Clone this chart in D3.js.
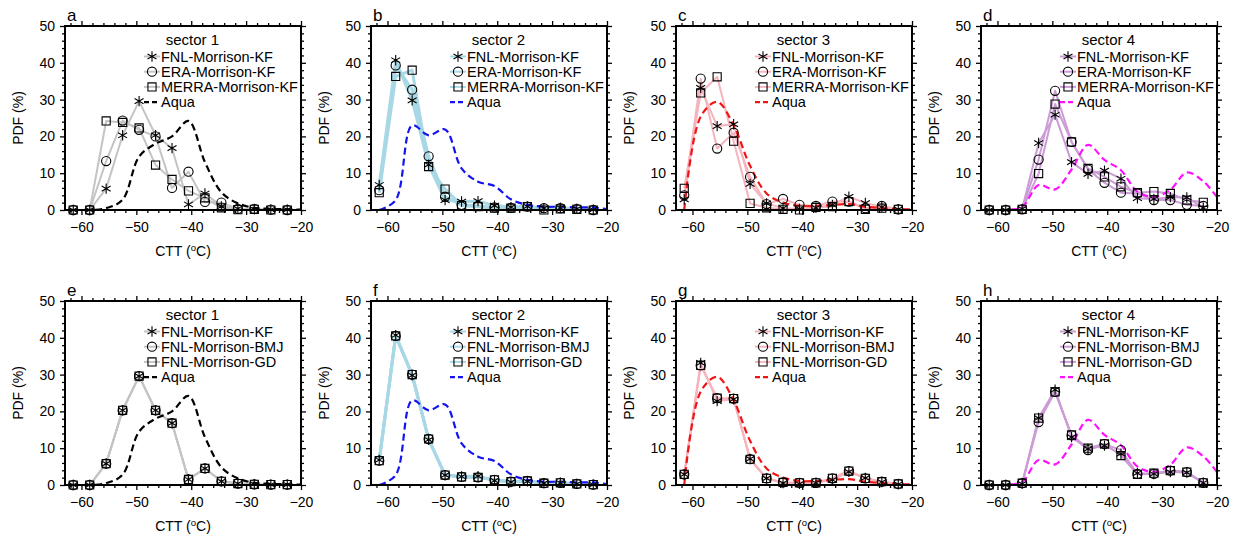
<!DOCTYPE html>
<html>
<head>
<meta charset="utf-8">
<script src="https://cdn.jsdelivr.net/npm/d3@7"></script>
<style>
  body { margin: 0; background: #fff; }
  text { font-family: "Liberation Sans", Arial, Helvetica, sans-serif; fill: #000; }
</style>
</head>
<body>
<svg id="chart" width="1240" height="537"></svg>
<script>
// bin centres of the CTT histogram (degC)
var binCentres = [-61.5, -58.5, -55.5, -52.5, -49.5, -46.5, -43.5, -40.5, -37.5, -34.5, -31.5, -28.5, -25.5, -22.5];
// Aqua curve has one extra point at the right edge
var aquaX = [-61.5, -58.5, -55.5, -52.5, -49.5, -46.5, -43.5, -40.5, -37.5, -34.5, -31.5, -28.5, -25.5, -22.5, -20];

var xTicks = [-60, -50, -40, -30, -20];
var yTicks = [0, 10, 20, 30, 40, 50];

// sector 1
var s1FNL   = [0, 0, 5.8, 20.3, 29.6, 20.3, 16.8, 1.5, 4.5, 1.0, 0.4, 0.2, 0.1, 0.1];
var s1ERA   = [0, 0, 13.3, 24.3, 21.8, 20.0, 6.0, 10.4, 2.2, 2.0, 0.3, 0.3, 0.1, 0];
var s1MERRA = [0, 0, 24.2, 23.8, 22.3, 12.2, 8.3, 5.2, 3.3, 0.6, 0.1, 0.2, 0, 0];
var s1BMJ   = [0, 0, 5.8, 20.3, 29.6, 20.3, 16.8, 1.5, 4.5, 1.0, 0.4, 0.2, 0.1, 0.1];
var s1GD    = [0, 0, 5.8, 20.3, 29.6, 20.3, 16.8, 1.5, 4.5, 1.0, 0.4, 0.2, 0.1, 0.1];
var s1Aqua  = [0, 0, 0.5, 2.8, 14.5, 18.0, 20.0, 24.2, 13.0, 4.8, 1.8, 0.6, 0.3, 0.2, 0.1];

// sector 2
var s2FNL   = [6.8, 40.7, 29.8, 12.3, 2.7, 2.3, 2.4, 1.2, 0.8, 1.0, 0.5, 0.6, 0.3, 0.1];
var s2ERA   = [5.4, 39.3, 32.7, 14.6, 3.6, 1.4, 1.1, 0.7, 0.6, 0.9, 0.5, 0.5, 0.3, 0];
var s2MERRA = [4.7, 36.3, 38.0, 11.8, 5.7, 1.2, 0.9, 0.5, 0.5, 0.9, 0, 0.3, 0.2, 0];
var s2BMJ   = [6.6, 40.5, 30.0, 12.5, 2.7, 2.2, 2.1, 1.4, 0.9, 1.1, 0.5, 0.6, 0.3, 0.1];
var s2GD    = [6.6, 40.5, 30.0, 12.5, 2.7, 2.2, 2.1, 1.4, 0.9, 1.1, 0.5, 0.6, 0.3, 0.1];
var s2Aqua  = [0, 2.7, 23.0, 20.3, 21.9, 11.3, 7.7, 6.5, 2.9, 1.4, 0.9, 0.9, 0.7, 0.7, 0.2];

// sector 3
var s3FNL   = [2.9, 33.2, 22.8, 23.3, 7.1, 1.8, 0.5, 0.3, 0.6, 1.4, 3.6, 1.9, 0.8, 0.2];
var s3ERA   = [4.0, 35.7, 16.7, 21.0, 9.0, 1.6, 3.0, 1.4, 1.1, 2.3, 2.3, 0.5, 1.1, 0.2];
var s3MERRA = [5.9, 31.8, 36.2, 18.7, 1.8, 0.6, 0.2, 0, 0.7, 0.9, 2.3, 0.2, 0.5, 0.2];
var s3BMJ   = [2.9, 32.5, 23.6, 23.5, 7.0, 1.8, 0.7, 0.6, 0.6, 1.8, 3.8, 1.8, 0.9, 0.3];
var s3GD    = [2.9, 32.5, 23.6, 23.5, 7.0, 1.8, 0.7, 0.6, 0.6, 1.8, 3.8, 1.8, 0.9, 0.3];
var s3Aqua  = [0, 25.4, 29.4, 23.0, 12.0, 4.5, 2.0, 1.1, 1.1, 1.4, 1.6, 0.9, 0.5, 0.2, 0.2];

// sector 4
var s4FNL   = [0, 0, 0.3, 18.2, 25.9, 13.0, 9.8, 10.7, 8.5, 3.2, 3.0, 3.5, 3.4, 0.6];
var s4ERA   = [0, 0, 0.2, 13.7, 32.4, 18.5, 11.0, 7.4, 4.7, 4.5, 2.7, 2.7, 1.4, 1.1];
var s4MERRA = [0, 0, 0.2, 9.9, 28.8, 18.5, 11.3, 9.0, 6.3, 4.7, 5.0, 4.5, 2.7, 2.1];
var s4BMJ   = [0, 0, 0.5, 17.1, 25.3, 13.5, 9.5, 11.1, 9.5, 3.0, 3.0, 3.9, 3.5, 0.6];
var s4GD    = [0, 0, 0.5, 18.2, 25.3, 13.6, 10.0, 11.2, 8.0, 2.9, 3.2, 3.9, 3.5, 0.6];
var s4Aqua  = [0, 0, 0.8, 6.8, 5.6, 11.0, 17.7, 13.6, 10.8, 5.0, 3.6, 5.5, 10.2, 7.8, 3.5];

var topNames = ["FNL-Morrison-KF", "ERA-Morrison-KF", "MERRA-Morrison-KF"];
var bottomNames = ["FNL-Morrison-KF", "FNL-Morrison-BMJ", "FNL-Morrison-GD"];
var markers = [d3.symbolAsterisk, d3.symbolCircle, d3.symbolSquare];

var modelColours = ["#c4c4c4", "#a8d8e6", "#f6b4be", "#cc9cd6"];
var modelWidths = [2, 3, 2, 2];
var aquaColours = ["#000000", "#1414f0", "#f01414", "#ff10ff"];

var panels = [
  {letter: "a", sector: 1, row: 0, col: 0, names: topNames, series: [s1FNL, s1ERA, s1MERRA], aqua: s1Aqua},
  {letter: "b", sector: 2, row: 0, col: 1, names: topNames, series: [s2FNL, s2ERA, s2MERRA], aqua: s2Aqua},
  {letter: "c", sector: 3, row: 0, col: 2, names: topNames, series: [s3FNL, s3ERA, s3MERRA], aqua: s3Aqua},
  {letter: "d", sector: 4, row: 0, col: 3, names: topNames, series: [s4FNL, s4ERA, s4MERRA], aqua: s4Aqua},
  {letter: "e", sector: 1, row: 1, col: 0, names: bottomNames, series: [s1FNL, s1BMJ, s1GD], aqua: s1Aqua},
  {letter: "f", sector: 2, row: 1, col: 1, names: bottomNames, series: [s2FNL, s2BMJ, s2GD], aqua: s2Aqua},
  {letter: "g", sector: 3, row: 1, col: 2, names: bottomNames, series: [s3FNL, s3BMJ, s3GD], aqua: s3Aqua},
  {letter: "h", sector: 4, row: 1, col: 3, names: bottomNames, series: [s4FNL, s4BMJ, s4GD], aqua: s4Aqua}
];

var svg = d3.select("#chart");
var colLeft = [65, 371, 676, 981],
    rowTop = [26, 301],
    pw = 236, ph = 184;

panels.forEach(function(p, pi) {
  var left = colLeft[p.col], top = rowTop[p.row];
  var si = p.sector - 1;
  var g = svg.append("g").attr("transform", "translate(" + left + "," + top + ")");

  var x = d3.scaleLinear().domain([-63, -20]).range([0, pw]);
  var y = d3.scaleLinear().domain([0, 50]).range([ph, 0]);

  //clip so the smooth curve never leaves the frame
  g.append("clipPath").attr("id", "clip" + pi)
    .append("rect").attr("width", pw).attr("height", ph);

  // minor + major ticks on all four sides, pointing out
  var minorX = d3.range(-62, -19, 2).filter(function(v) { return v % 10 != 0; });
  var minorY = d3.range(0, 51, 2).filter(function(v) { return v % 10 != 0; });

  function tickStyle(sel) {
    sel.select(".domain").remove();
    sel.selectAll("line").attr("stroke", "#000").attr("stroke-width", 1.3);
    sel.selectAll("text").style("font-size", "14px").attr("fill", "#000");
  }

  g.append("g").attr("transform", "translate(0," + ph + ")")
    .call(d3.axisBottom(x).tickValues(xTicks).tickSize(5).tickPadding(7).tickFormat(d3.format("d")))
    .call(tickStyle);
  g.append("g").attr("transform", "translate(0," + ph + ")")
    .call(d3.axisBottom(x).tickValues(minorX).tickSize(3).tickFormat(""))
    .call(tickStyle);
  g.append("g")
    .call(d3.axisTop(x).tickValues(xTicks).tickSize(5).tickFormat(""))
    .call(tickStyle);
  g.append("g")
    .call(d3.axisTop(x).tickValues(minorX).tickSize(3).tickFormat(""))
    .call(tickStyle);
  g.append("g")
    .call(d3.axisLeft(y).tickValues(yTicks).tickSize(5).tickPadding(5))
    .call(tickStyle);
  g.append("g")
    .call(d3.axisLeft(y).tickValues(minorY).tickSize(3).tickFormat(""))
    .call(tickStyle);
  g.append("g").attr("transform", "translate(" + pw + ",0)")
    .call(d3.axisRight(y).tickValues(yTicks).tickSize(5).tickFormat(""))
    .call(tickStyle);
  g.append("g").attr("transform", "translate(" + pw + ",0)")
    .call(d3.axisRight(y).tickValues(minorY).tickSize(3).tickFormat(""))
    .call(tickStyle);

  var plot = g.append("g").attr("clip-path", "url(#clip" + pi + ")");

  var line = d3.line()
    .x(function(d, i) { return x(binCentres[i]); })
    .y(function(d) { return y(d); });

  p.series.forEach(function(s) {
    plot.append("path").datum(s)
      .attr("d", line)
      .attr("fill", "none")
      .attr("stroke", modelColours[si])
      .attr("stroke-width", modelWidths[si])
      .attr("stroke-linejoin", "round");
  });

  var aquaLine = d3.line()
    .x(function(d, i) { return x(aquaX[i]); })
    .y(function(d) { return y(d); })
    .curve(d3.curveCatmullRom.alpha(0.5));

  plot.append("path").datum(p.aqua)
    .attr("d", aquaLine)
    .attr("fill", "none")
    .attr("stroke", aquaColours[si])
    .attr("stroke-width", 2.2)
    .attr("stroke-dasharray", "7,4");

  p.series.forEach(function(s, k) {
    g.append("g").selectAll("path")
      .data(s)
      .enter().append("path")
      .attr("transform", function(d, i) { return "translate(" + x(binCentres[i]) + "," + y(d) + ")"; })
      .attr("d", d3.symbol().type(markers[k]).size(k == 0 ? 75 : 66))
      .attr("fill", "none")
      .attr("stroke", "#000")
      .attr("stroke-width", 1.1);
  });

  // frame
  g.append("rect").attr("width", pw).attr("height", ph)
    .attr("fill", "none").attr("stroke", "#000").attr("stroke-width", 2);

  // panel letter
  g.append("text").attr("x", 2).attr("y", -5)
    .style("font-size", "17px").text(p.letter);

  // axis titles
  var xt = g.append("text").attr("x", pw / 2).attr("y", ph + 46)
    .attr("text-anchor", "middle").style("font-size", "14px");
  xt.append("tspan").text("CTT (");
  xt.append("tspan").attr("dy", -5).style("font-size", "9.5px").text("o");
  xt.append("tspan").attr("dy", 5).text("C)");

  g.append("text")
    .attr("transform", "translate(-42," + ph / 2 + ") rotate(-90)")
    .attr("text-anchor", "middle").style("font-size", "14px")
    .text("PDF (%)");

  // title + legend
  g.append("text").attr("x", pw * 0.54).attr("y", 19)
    .attr("text-anchor", "middle").style("font-size", "15px")
    .text("sector " + p.sector);

  var tx = pw - 140;
  var legendRows = p.names.concat(["Aqua"]);
  legendRows.forEach(function(name, k) {
    var by = 35.5 + 15.2 * k, my = by - 5;
    var isAqua = k == 3;
    g.append("line")
      .attr("x1", tx - 17).attr("x2", tx - 1)
      .attr("y1", my).attr("y2", my)
      .attr("stroke", isAqua ? aquaColours[si] : modelColours[si])
      .attr("stroke-width", isAqua ? 2.2 : 2)
      .attr("stroke-dasharray", isAqua ? "5,3" : null);
    if (!isAqua) {
      g.append("path")
        .attr("transform", "translate(" + (tx - 9) + "," + my + ")")
        .attr("d", d3.symbol().type(markers[k]).size(k == 0 ? 75 : 66))
        .attr("fill", "none").attr("stroke", "#000").attr("stroke-width", 1.1);
    }
    g.append("text").attr("x", tx).attr("y", by)
      .style("font-size", "14.5px").text(name);
  });
});
</script>
</body>
</html>
